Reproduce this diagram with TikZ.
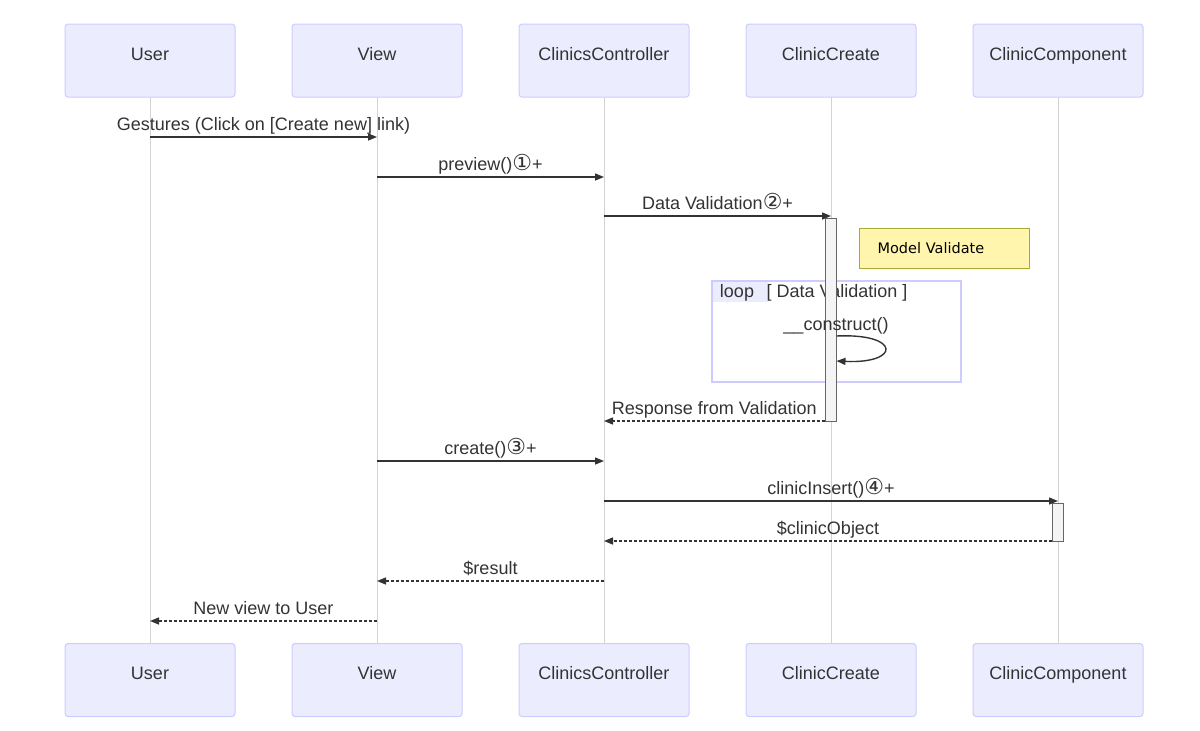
\documentclass[tikz,border=0pt]{standalone}
\usepackage{fontspec}
\setmainfont{Liberation Sans}
\newfontfamily\circfont{DejaVu Sans}
\newfontfamily\notefont{DejaVu Sans}
\usetikzlibrary{arrows.meta, positioning, calc}

\definecolor{actorfill}{HTML}{ECECFF}
\definecolor{actorline}{HTML}{CCCCFF}
\definecolor{notefill}{HTML}{FFF5AD}
\definecolor{noteline}{HTML}{AAAA33}
\definecolor{lifecol}{HTML}{D3D3D3}
\definecolor{msgcol}{HTML}{333333}
\definecolor{actfill}{HTML}{F4F4F4}
\definecolor{actline}{HTML}{666666}

\newcommand{\circd}[1]{{\circfont\fontsize{22}{22}\selectfont #1}}

\tikzset{
  actor/.style={draw=actorline, fill=actorfill, rounded corners=3pt, line width=1pt,
    minimum width=170pt, minimum height=73pt, outer sep=0pt, text=msgcol,
    text height=13pt, text depth=14pt},
  life/.style={draw=lifecol, line width=1pt},
  msg/.style={draw=msgcol, line width=1.4pt, -{Triangle[length=9pt,width=7pt]}},
  reply/.style={msg, dash pattern=on 3pt off 2pt},
  lbl/.style={anchor=base, text=msgcol, inner sep=0pt},
  act/.style={draw=actline, fill=actfill, line width=1pt, minimum width=11pt, inner sep=0pt},
  note/.style={draw=noteline, fill=notefill, line width=1pt, anchor=north west,
    font=\notefont\fontsize{14.5}{16}\selectfont, text width=134pt, inner xsep=18pt,
    minimum height=40pt, align=left},
  frame/.style={draw=actorline, line width=2pt}
}

\begin{document}
\begin{tikzpicture}[x=1pt, y=-1pt, font=\fontsize{18}{21}\selectfont]
\useasboundingbox (0,0) rectangle (1200,731);

% Actors (top)
\node[actor] (userT) at (150,60.5) {User};
\node[actor, right=57pt of userT] (viewT) {View};
\node[actor, right=57pt of viewT] (ctrlT) {ClinicsController};
\node[actor, right=57pt of ctrlT] (createT) {ClinicCreate};
\node[actor, right=57pt of createT] (compT) {ClinicComponent};

% Actors (bottom)
\node[actor] (userB) at (150,680) {User};
\node[actor, right=57pt of userB] (viewB) {View};
\node[actor, right=57pt of viewB] (ctrlB) {ClinicsController};
\node[actor, right=57pt of ctrlB] (createB) {ClinicCreate};
\node[actor, right=57pt of createB] (compB) {ClinicComponent};

% Lifelines
\foreach \a in {user,view,ctrl,create,comp}
  \draw[life] (\a T) -- (\a B);

% Loop frame
\draw[frame] (712,281) rectangle (961,382);
\node[fill=actorfill, anchor=north west, minimum width=55pt, minimum height=20pt,
  inner sep=0pt] (loopTab) at (713,282) {};
\node[lbl] (loopTxt) at (737,297) {loop};
\node[lbl] (loopCond) at (837,297) {[ Data Validation ]};

% Activations
\node[act, minimum height=203pt] (createAct) at (830.5,319.5) {};
\node[act, minimum height=38pt] (compAct) at (1058,522) {};

% Note
\node[note] (valNote) at (859,228) {Model Validate};

% Messages
\draw[msg] (userT |- 0,137) -- (viewT |- 0,137)
  node[lbl, midway, yshift=7pt] {Gestures (Click on [Create new] link)};
\draw[msg] (viewT |- 0,177) -- (ctrlT |- 0,177)
  node[lbl, midway, yshift=7pt] {preview()\circd{①}+};
\draw[msg] (ctrlT |- 0,216) -- (createT |- 0,216)
  node[lbl, midway, yshift=7pt] {Data Validation\circd{②}+};

% Self call
\node[lbl] (selfTxt) at (836,330) {\_\_construct()};
\draw[msg] (createAct.east |- 0,336) .. controls (901,333) and (901,364) .. (createAct.east |- 0,361);

\draw[reply] (createAct.west |- 0,421) -- (ctrlT |- 0,421)
  node[lbl, midway, yshift=7pt] {Response from Validation};
\draw[msg] (viewT |- 0,461) -- (ctrlT |- 0,461)
  node[lbl, midway, yshift=7pt] {create()\circd{③}+};
\draw[msg] (ctrlT |- 0,501) -- (compT |- 0,501)
  node[lbl, midway, yshift=7pt] {clinicInsert()\circd{④}+};
\draw[reply] (compAct.west |- 0,541) -- (ctrlT |- 0,541)
  node[lbl, midway, yshift=7pt] {\$clinicObject};
\draw[reply] (ctrlT |- 0,581) -- (viewT |- 0,581)
  node[lbl, midway, yshift=7pt] {\$result};
\draw[reply] (viewT |- 0,621) -- (userT |- 0,621)
  node[lbl, midway, yshift=7pt] {New view to User};
\end{tikzpicture}
\end{document}
